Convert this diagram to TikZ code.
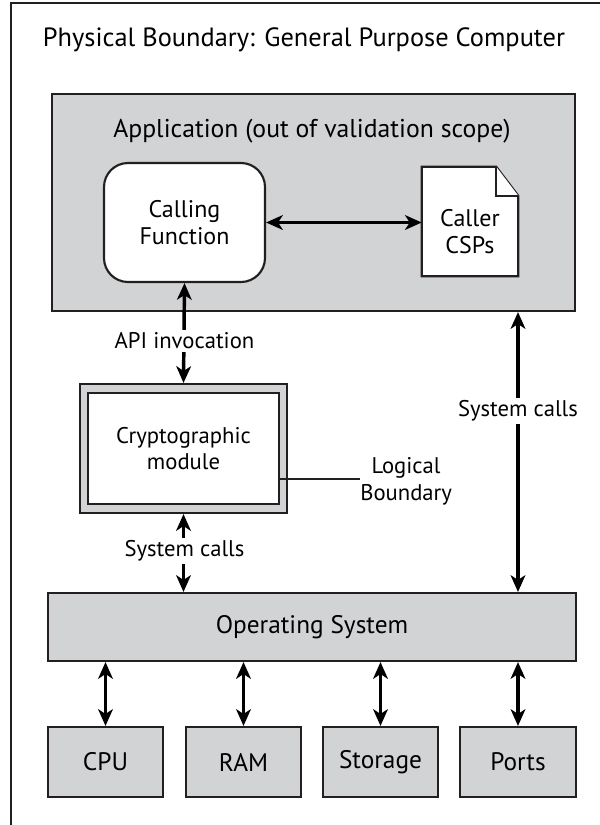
\documentclass[tikz,border=0pt]{standalone}
\usepackage{fontspec}
\setmainfont{PT Sans}
\usetikzlibrary{arrows.meta}
\definecolor{boxgray}{HTML}{D1D3D4}
\definecolor{edge}{HTML}{231F20}
\tikzset{
  tip/.tip={Stealth[length=12.5pt,width=11pt,inset=3.5pt]},
  box/.style={draw=edge, line width=1.6pt, fill=boxgray, inner sep=0pt, align=center},
  wbox/.style={draw=edge, line width=1.6pt, fill=white, inner sep=0pt, align=center},
  conn/.style={draw=black, line width=2.6pt, tip-tip},
  lbl/.style={fill=white, inner sep=2pt, align=center},
  big/.style={font=\fontsize{19.8}{24}\selectfont},
  mid/.style={font=\fontsize{19.3}{23}\selectfont},
  hw/.style={font=\fontsize{19}{23}\selectfont},
  fn/.style={font=\fontsize{18}{20.5}\selectfont},
  sml/.style={font=\fontsize{17}{20}\selectfont}
}
\begin{document}
\begin{tikzpicture}[x=0.75pt,y=-0.75pt]
\useasboundingbox (0,0) rectangle (600,825);
% physical boundary frame
\coordinate (ftl) at (11,3);
\coordinate (ftr) at (600,3);
\coordinate (fbl) at (11,825);
\draw[line width=1.6pt, edge] (ftr) -- (ftl) -- (fbl);
\node[big, inner sep=0pt] (title) at (304,40) {Physical Boundary: General Purpose Computer};

% application
\node[box, minimum width=392.25pt, minimum height=162.75pt] (app) at (313.5,202.5) {};
\node[mid, inner sep=0pt] (apptitle) at (312,131) {Application (out of validation scope)};
\node[wbox, fn, rounded corners=18pt, minimum width=120.75pt, minimum height=89.25pt] (call) at (184.5,222.5) {Calling\\Function};
\node[inner sep=0pt, minimum width=72pt, minimum height=81.75pt] (csp) at (470,221.5) {};
\draw[line width=1.6pt, draw=edge, fill=white]
  (csp.north west) -- ([xshift=-16.5pt]csp.north east) -- ([yshift=-21.75pt]csp.north east)
  -- (csp.south east) -- (csp.south west) -- cycle;
\draw[line width=1.6pt, draw=edge, fill=white]
  ([xshift=-16.5pt]csp.north east) -- ([xshift=-16.5pt,yshift=-21.75pt]csp.north east) -- ([yshift=-21.75pt]csp.north east);
\node[fn, align=center, inner sep=0pt] (csptext) at ([yshift=-7.5pt]csp.center) {Caller\\CSPs};
\draw[conn] (call.east) -- (call.east -| csp.west);

% cryptographic module
\node[box, minimum width=155.25pt, minimum height=96.75pt] (cmout) at (183.5,448.5) {};
\node[wbox, sml, minimum width=143.25pt, minimum height=83.25pt] (cm) at (183.5,448.5) {Cryptographic\\module};
\node[sml, inner sep=0pt, align=center, anchor=west] (lb) at (360,481) {Logical\\Boundary};
\coordinate (lbs) at ([yshift=-22.9pt]cm.east);
\draw[line width=1.8pt, edge] (lbs) -- (lbs -| lb.west);

% operating system
\node[box, hw, minimum width=396pt, minimum height=51pt] (os) at (312,627) {Operating System};

% hardware
\node[box, hw, minimum width=86.25pt, minimum height=52.5pt] (cpu) at (105.5,762) {CPU};
\node[box, hw, minimum width=86.25pt, minimum height=52.5pt] (ram) at (243.5,762) {RAM};
\node[box, hw, minimum width=86.25pt, minimum height=52.5pt] (sto) at (380.5,762) {Storage};
\node[box, hw, minimum width=87pt, minimum height=52.5pt] (ports) at (518,762) {Ports};

% connectors
\draw[conn] (call.south) -- (cmout.north);
\node[lbl, sml] (api) at (184.5,341) {API invocation};
\draw[conn] (cmout.south) -- (cmout.south |- os.north);
\node[lbl, sml] (sc1) at (184.5,551) {System calls};
\draw[conn] (app.south -| ports.north) -- (os.north -| ports.north);
\node[lbl, sml] (sc2) at (518,411) {System calls};
\draw[conn] (os.south -| cpu.north) -- (cpu.north);
\draw[conn] (os.south -| ram.north) -- (ram.north);
\draw[conn] (os.south -| sto.north) -- (sto.north);
\draw[conn] (os.south -| ports.north) -- (ports.north);
\end{tikzpicture}
\end{document}
